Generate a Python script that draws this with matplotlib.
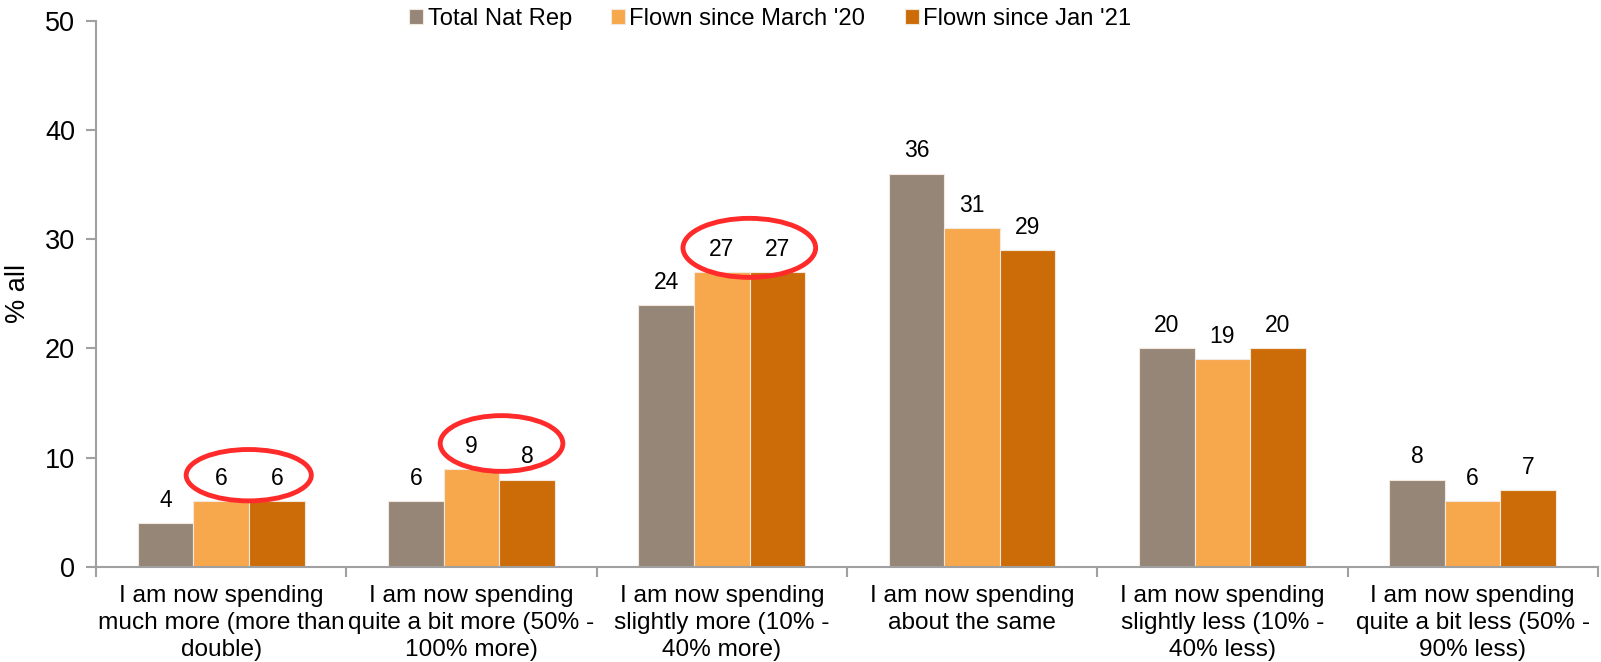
import matplotlib.pyplot as plt
import numpy as np
from matplotlib.patches import Ellipse

plt.rcParams['font.family'] = ['Liberation Sans', 'DejaVu Sans']

categories = ['I am now spending\nmuch more (more than\ndouble)',
              'I am now spending\nquite a bit more (50% -\n100% more)',
              'I am now spending\nslightly more (10% -\n40% more)',
              'I am now spending\nabout the same',
              'I am now spending\nslightly less (10% -\n40% less)',
              'I am now spending\nquite a bit less (50% -\n90% less)']
series_names = ['Total Nat Rep', "Flown since March '20", "Flown since Jan '21"]
total_nat_rep = [4, 6, 24, 36, 20, 8]
flown_mar20 = [6, 9, 27, 31, 19, 6]
flown_jan21 = [6, 8, 27, 29, 20, 7]
colors = ['#968677', '#F7A74C', '#CC6C09']

fig = plt.figure(figsize=(16.01, 6.62), dpi=100)
ax = fig.add_axes([0.06, 0.1435, 0.938, 0.8255])

x = np.arange(len(categories))
w = 0.222
for i, (vals, name, c) in enumerate(zip([total_nat_rep, flown_mar20, flown_jan21], series_names, colors)):
    bars = ax.bar(x + (i - 1) * w, vals, w, color=c, label=name, edgecolor='#F2E8DE', linewidth=0.8)
    for b, v in zip(bars, vals):
        ax.annotate(str(v), (b.get_x() + b.get_width() / 2, v), xytext=(0, 8),
                    textcoords='offset points', ha='center', va='bottom', fontsize=16.5)

# red ellipses highlighting labels
for cx, cy, ew, eh in [(0.11, 8.4, 0.50, 4.7), (1.12, 11.3, 0.49, 5.1), (2.11, 29.2, 0.53, 5.4)]:
    ax.add_patch(Ellipse((cx, cy), ew, eh, fill=False, edgecolor='#FF2A2A', linewidth=3.5, zorder=5))

ax.set_xlim(-0.5, len(categories) - 0.5)
ax.set_ylim(0, 50)
ax.set_yticks(range(0, 51, 10))
ax.set_xticks(x)
ax.set_xticklabels(categories, fontsize=17.6, linespacing=1.3)
ax.set_xticks(np.arange(-0.5, len(categories), 1), minor=True)
ax.tick_params(axis='x', which='major', length=0, pad=13)
ax.tick_params(axis='x', which='minor', length=7, color='#A0A0A0', width=1.5)
ax.tick_params(axis='y', length=7, color='#A0A0A0', width=1.5, labelsize=19.5, pad=8)
ax.set_ylabel('% all', fontsize=19.5, labelpad=10)
for s in ['top', 'right']:
    ax.spines[s].set_visible(False)
for s in ['left', 'bottom']:
    ax.spines[s].set_color('#A0A0A0')
    ax.spines[s].set_linewidth(1.5)

fig.legend(loc='upper center', bbox_to_anchor=(0.481, 1.02), ncol=3, frameon=False,
           fontsize=17.1, handlelength=0.6, handleheight=0.6, handletextpad=0.18, columnspacing=1.65)

fig.savefig('out.png', dpi=100)
